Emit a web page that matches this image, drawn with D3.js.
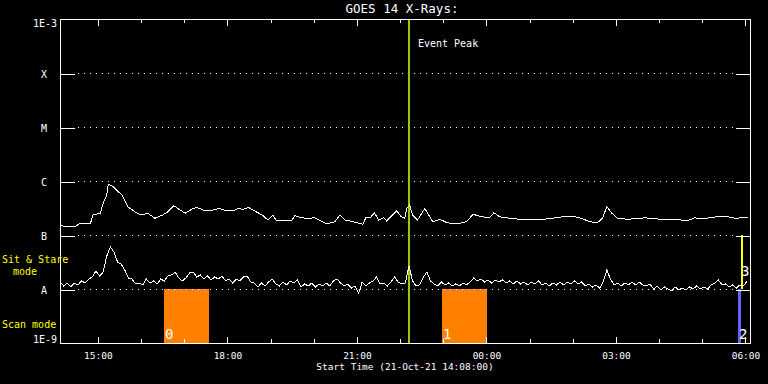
<!DOCTYPE html>
<html>
<head>
<meta charset="utf-8">
<script src="https://cdn.jsdelivr.net/npm/d3@7"></script>
<style>
  html, body { margin: 0; padding: 0; background: #000; }
  svg { display: block; }
  text { font-family: "DejaVu Sans Mono", "Liberation Mono", monospace; fill: #fff; }
</style>
</head>
<body>
<svg id="chart" width="768" height="384"></svg>
<script>
// ---------------- DATA ----------------
const titleText = "GOES 14 X-Rays:";
const xAxisTitle = "Start Time (21-Oct-21 14:08:00)";
const startTime = "2021-10-21 14:08";
const endTime = "2021-10-22 06:07";
const eventPeakTime = "2021-10-21 22:13";

// class tick labels
const classLabels = ["A", "B", "C", "M", "X"];
const classFlux = [1e-8, 1e-7, 1e-6, 1e-5, 1e-4];
const fluxMin = 1e-9, fluxMax = 1e-3;

// long channel (1-8 A), minutes after start time
const longMinutes = [0, 21, 28, 42, 46, 56, 60, 65, 67, 74, 86, 94, 107, 114, 122, 132, 143, 150, 158, 167,
  174, 185, 190, 199, 212, 222, 232, 243, 247, 254, 262, 268, 281, 289, 296, 301, 322, 326, 336, 344,
  354, 371, 382, 389, 396, 413, 421, 425, 431, 437, 443, 450, 454, 463, 468, 474, 479, 482, 486, 490,
  497, 507, 514, 518, 528, 538, 551, 565, 574, 586, 597, 603, 611, 625, 639, 657, 676, 699, 715, 725,
  736, 747, 754, 760, 767, 775, 789, 813, 836, 854, 872, 882, 892, 906, 914, 928, 938, 956];
const longFlux = [1.48e-7, 1.42e-7, 1.65e-7, 1.60e-7, 2.35e-7, 2.53e-7, 3.91e-7, 5.5e-7, 8.7e-7, 7.8e-7,
  5.5e-7, 3.35e-7, 2.53e-7, 2.35e-7, 2.53e-7, 2.04e-7, 2.35e-7, 2.70e-7, 3.5e-7, 2.9e-7,
  2.53e-7, 3.10e-7, 3.24e-7, 2.9e-7, 2.9e-7, 3.1e-7, 2.78e-7, 2.9e-7, 3.1e-7, 2.98e-7,
  3.24e-7, 2.9e-7, 2.35e-7, 1.9e-7, 2.35e-7, 1.82e-7, 1.82e-7, 2.28e-7, 2.08e-7, 2.04e-7,
  2.08e-7, 1.6e-7, 1.76e-7, 2.35e-7, 1.9e-7, 1.69e-7, 1.58e-7, 2.08e-7, 2.08e-7, 2.59e-7,
  1.9e-7, 2.08e-7, 1.82e-7, 2.42e-7, 2.81e-7, 2.18e-7, 2.04e-7, 3.1e-7, 3.59e-7, 2.35e-7,
  1.9e-7, 3.1e-7, 2.18e-7, 1.76e-7, 1.95e-7, 1.69e-7, 1.6e-7, 1.76e-7, 2.42e-7, 2.18e-7,
  2.08e-7, 2.59e-7, 2.18e-7, 2.04e-7, 1.95e-7, 1.9e-7, 1.98e-7, 2.18e-7, 2.18e-7, 2.04e-7,
  1.76e-7, 1.69e-7, 2.04e-7, 3.35e-7, 2.53e-7, 2.04e-7, 1.95e-7, 2.08e-7, 1.95e-7, 1.95e-7,
  1.84e-7, 2.08e-7, 1.98e-7, 2.12e-7, 2.18e-7, 2.18e-7, 2.04e-7, 2.12e-7];

// short channel (0.5-4 A), one sample every 5 minutes from start time
const shortCadenceMin = 5;
const shortFlux = [
  1.35e-8, 1.14e-8, 1.29e-8, 1.09e-8, 1.29e-8, 1.19e-8, 1.41e-8, 1.29e-8, 1.53e-8, 1.67e-8,
  2.15e-8, 1.74e-8, 2.06e-8, 4.08e-8, 6.0e-8, 4.84e-8, 3.16e-8, 2.90e-8, 2.25e-8, 1.60e-8,
  1.53e-8, 1.24e-8, 1.29e-8, 1.19e-8, 1.53e-8, 1.29e-8, 1.41e-8, 1.24e-8, 1.53e-8, 1.41e-8,
  1.74e-8, 1.82e-8, 2.06e-8, 1.60e-8, 1.41e-8, 1.60e-8, 1.98e-8, 2.06e-8, 1.67e-8, 1.82e-8,
  1.53e-8, 1.74e-8, 1.47e-8, 1.67e-8, 1.53e-8, 1.74e-8, 1.41e-8, 1.53e-8, 1.29e-8, 1.53e-8,
  1.41e-8, 1.67e-8, 1.74e-8, 1.35e-8, 1.29e-8, 1.09e-8, 1.29e-8, 1.14e-8, 1.35e-8, 1.53e-8,
  1.24e-8, 1.14e-8, 1.35e-8, 1.19e-8, 1.41e-8, 1.29e-8, 1.47e-8, 1.09e-8, 1.24e-8, 1.14e-8,
  1.29e-8, 1.09e-8, 1.24e-8, 1.14e-8, 1.29e-8, 1.14e-8, 1.41e-8, 1.53e-8, 1.29e-8, 1.14e-8,
  1.24e-8, 1.04e-8, 1.14e-8, 8.4e-9, 1.35e-8, 1.14e-8, 1.29e-8, 1.41e-8, 1.67e-8, 1.24e-8,
  1.29e-8, 1.14e-8, 1.35e-8, 1.67e-8, 1.35e-8, 1.24e-8, 1.29e-8, 2.67e-8, 1.41e-8, 1.14e-8,
  1.19e-8, 1.67e-8, 2.06e-8, 1.41e-8, 1.24e-8, 1.14e-8, 1.35e-8, 1.19e-8, 1.29e-8, 1.14e-8,
  1.24e-8, 1.14e-8, 1.29e-8, 1.19e-8, 1.35e-8, 1.60e-8, 1.41e-8, 1.53e-8, 1.35e-8, 1.47e-8,
  1.29e-8, 1.47e-8, 1.35e-8, 1.47e-8, 1.29e-8, 1.41e-8, 1.24e-8, 1.41e-8, 1.24e-8, 1.35e-8,
  1.19e-8, 1.35e-8, 1.24e-8, 1.41e-8, 1.19e-8, 1.29e-8, 1.14e-8, 1.29e-8, 1.19e-8, 1.35e-8,
  1.19e-8, 1.35e-8, 1.24e-8, 1.41e-8, 1.24e-8, 1.35e-8, 1.14e-8, 1.24e-8, 1.09e-8, 1.19e-8,
  1.04e-8, 1.35e-8, 2.25e-8, 1.53e-8, 1.19e-8, 1.29e-8, 1.14e-8, 1.29e-8, 1.19e-8, 1.35e-8,
  1.19e-8, 1.35e-8, 1.19e-8, 1.14e-8, 1.24e-8, 1.00e-8, 1.14e-8, 9.6e-9, 1.09e-8, 1.00e-8,
  9.2e-9, 1.09e-8, 9.6e-9, 1.04e-8, 9.6e-9, 1.09e-8, 1.00e-8, 1.14e-8, 1.00e-8, 1.09e-8,
  1.00e-8, 1.19e-8, 1.29e-8, 1.47e-8, 1.19e-8, 1.24e-8, 1.09e-8, 1.19e-8, 1.04e-8, 1.19e-8,
  1.14e-8, 1.41e-8];

// observing-mode blocks
const modeStarts = ["2021-10-21 16:32", "2021-10-21 22:59", "2021-10-22 05:51", "2021-10-22 05:55"];
const modeEnds   = ["2021-10-21 17:35", "2021-10-22 00:01", "2021-10-22 05:55", "2021-10-22 05:58"];
const modeLabels = ["0", "1", "2", "3"];
const modeTypes  = ["scan", "scan", "scanEnd", "stare"];
const modeNames  = { scan: "Scan mode", stare: ["Sit & Stare", "mode"] };

// ---------------- CHART ----------------
const parse = d3.timeParse("%Y-%m-%d %H:%M");
const t0 = parse(startTime);
const svg = d3.select("#chart");
svg.append("rect").attr("width", 768).attr("height", 384).attr("fill", "#000");

const L = 60, R = 750, T = 19, B = 343;
const x = d3.scaleTime().domain([t0, parse(endTime)]).range([L, R]);
const y = d3.scaleLog().domain([fluxMin, fluxMax]).range([B, T]);
const addMin = m => new Date(t0.getTime() + m * 60000);

// mode bars
const barColor = { scan: "#ff8000", scanEnd: "#6464ff", stare: "#ffff00" };
const barTop = { scan: 1e-8, scanEnd: 1e-8, stare: 1e-7 };
const barBot = { scan: fluxMin, scanEnd: fluxMin, stare: 1e-8 };
modeStarts.forEach((s, i) => {
  const ty = modeTypes[i];
  const x0 = x(parse(s)), x1 = x(parse(modeEnds[i]));
  svg.append("rect")
    .attr("x", Math.round(x0)).attr("y", y(barTop[ty]))
    .attr("width", Math.max(2, Math.round(x1 - x0))).attr("height", y(barBot[ty]) - y(barTop[ty]))
    .attr("fill", barColor[ty]).attr("shape-rendering", "crispEdges");
});

// dotted class grid lines
classFlux.forEach(f => {
  svg.append("line")
    .attr("x1", L + 18).attr("x2", R - 14)
    .attr("y1", Math.round(y(f)) + 0.5).attr("y2", Math.round(y(f)) + 0.5)
    .attr("stroke", "#fff").attr("stroke-width", 1)
    .attr("stroke-dasharray", "1,5").attr("shape-rendering", "crispEdges");
});

// event peak line
svg.append("line")
  .attr("x1", x(parse(eventPeakTime))).attr("x2", x(parse(eventPeakTime)))
  .attr("y1", T).attr("y2", B)
  .attr("stroke", "#99cc00").attr("stroke-width", 2).attr("shape-rendering", "crispEdges");
svg.append("text").attr("x", x(parse(eventPeakTime)) + 9).attr("y", 47)
  .attr("font-size", "10px").text("Event Peak");

// data lines
const line = d3.line().x(d => x(d[0])).y(d => y(d[1]));
const longData = longMinutes.map((m, i) => [addMin(m), longFlux[i]]);
const shortData = shortFlux.map((f, i) => [addMin(i * shortCadenceMin), f]);
[longData, shortData].forEach(data => {
  svg.append("path").datum(data).attr("d", line)
    .attr("fill", "none").attr("stroke", "#fff").attr("stroke-width", 1)
    .attr("shape-rendering", "crispEdges");
});

// mode labels (digits)
modeStarts.forEach((s, i) => {
  const ty = modeTypes[i];
  const baseY = ty === "stare" ? 276 : 339;
  svg.append("text").attr("x", Math.round(x(parse(s))) + (ty === "stare" ? 0 : 1)).attr("y", baseY)
    .attr("font-size", "14px").text(modeLabels[i]);
});

// frame
svg.append("rect").attr("x", L + 0.5).attr("y", T + 0.5).attr("width", R - L).attr("height", B - T)
  .attr("fill", "none").attr("stroke", "#fff").attr("stroke-width", 1).attr("shape-rendering", "crispEdges");

// x axes (major / minor, bottom & top, ticks inward)
function styleAxis(g) {
  g.select(".domain").remove();
  g.selectAll("line").attr("stroke", "#fff").attr("shape-rendering", "crispEdges");
  g.selectAll("text").attr("fill", "#fff").attr("font-size", "9.5px")
    .attr("font-family", "DejaVu Sans Mono, monospace");
}
const fmt = d3.timeFormat("%H:%M");
svg.append("g").attr("transform", `translate(0.5,${B})`)
  .call(d3.axisBottom(x).ticks(d3.timeHour.every(1)).tickFormat("").tickSize(-4)).call(styleAxis);
svg.append("g").attr("transform", `translate(0.5,${B})`)
  .call(d3.axisBottom(x).ticks(d3.timeHour.every(3)).tickFormat(fmt).tickSize(-6).tickPadding(9)).call(styleAxis);
svg.append("g").attr("transform", `translate(0.5,${T + 1})`)
  .call(d3.axisTop(x).ticks(d3.timeHour.every(1)).tickFormat("").tickSize(-3)).call(styleAxis);
svg.append("g").attr("transform", `translate(0.5,${T + 1})`)
  .call(d3.axisTop(x).ticks(d3.timeHour.every(3)).tickFormat("").tickSize(-6)).call(styleAxis);

// y axes (class ticks, inward, both sides)
svg.append("g").attr("transform", `translate(${L},0.5)`)
  .call(d3.axisLeft(y).tickValues(classFlux).tickFormat("").tickSize(-15)).call(styleAxis);
svg.append("g").attr("transform", `translate(${R},0.5)`)
  .call(d3.axisRight(y).tickValues(classFlux).tickFormat("").tickSize(-14)).call(styleAxis);

// y labels
classFlux.forEach((f, i) => {
  svg.append("text").attr("x", 44).attr("y", y(f) + 4.5).attr("text-anchor", "middle")
    .attr("font-size", "10px").text(classLabels[i]);
});
svg.append("text").attr("x", 57).attr("y", T + 8).attr("text-anchor", "end").attr("font-size", "10px")
  .text("1E" + Math.round(Math.log10(fluxMax)));
svg.append("text").attr("x", 57).attr("y", B).attr("text-anchor", "end").attr("font-size", "10px")
  .text("1E" + Math.round(Math.log10(fluxMin)));

// mode names (yellow)
svg.append("text").attr("x", 2).attr("y", 263).attr("font-size", "10px").attr("fill", "#ffff00").style("fill", "#ffff00")
  .text(modeNames.stare[0]);
svg.append("text").attr("x", 13).attr("y", 275).attr("font-size", "10px").style("fill", "#ffff00")
  .text(modeNames.stare[1]);
svg.append("text").attr("x", 2).attr("y", 328).attr("font-size", "10px").style("fill", "#ffff00")
  .text(modeNames.scan);

// titles
svg.append("text").attr("x", 402).attr("y", 13).attr("text-anchor", "middle")
  .attr("font-size", "12.5px").text(titleText);
svg.append("text").attr("x", 405).attr("y", 370).attr("text-anchor", "middle")
  .attr("font-size", "9.5px").text(xAxisTitle);
</script>
</body>
</html>
